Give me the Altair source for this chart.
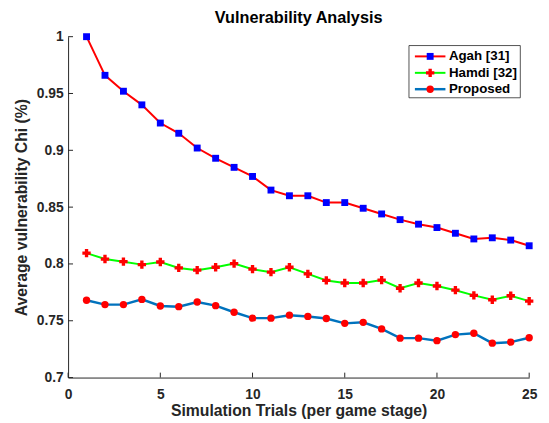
import altair as alt
import pandas as pd

# ---------------- data ----------------
trials = list(range(1, 26))
agah = [1.000, 0.966, 0.952, 0.940, 0.924, 0.915, 0.902, 0.893, 0.885, 0.877,
        0.865, 0.860, 0.860, 0.854, 0.854, 0.849, 0.844, 0.839, 0.835, 0.832,
        0.827, 0.822, 0.823, 0.821, 0.816]
hamdi = [0.8095, 0.8043, 0.8020, 0.7994, 0.8017, 0.7965, 0.7945, 0.7971, 0.8003, 0.7954,
         0.7928, 0.7971, 0.7913, 0.7855, 0.7832, 0.7832, 0.7858, 0.7786, 0.7832, 0.7806,
         0.7769, 0.7723, 0.7685, 0.7720, 0.7673]
proposed = [0.7680, 0.7642, 0.7642, 0.7688, 0.7630, 0.7624, 0.7665, 0.7633, 0.7575, 0.7523,
            0.7523, 0.7549, 0.7538, 0.7520, 0.7477, 0.7486, 0.7428, 0.7347, 0.7347, 0.7325,
            0.7378, 0.7390, 0.7303, 0.7312, 0.7350]
series_names = ["Agah [31]", "Hamdi [32]", "Proposed"]
x_ticks = [0, 5, 10, 15, 20, 25]
y_ticks = [0.7, 0.75, 0.8, 0.85, 0.9, 0.95, 1.0]

# ---------------- style ----------------
W, H = 468, 346
FONT = "Liberation Sans"
AX = "#262626"

x_scale = alt.Scale(domain=[0, 25], nice=False, zero=False)
y_scale = alt.Scale(domain=[0.7, 1.0], nice=False, zero=False)

x_axis = alt.Axis(values=x_ticks, title="Simulation Trials (per game stage)", grid=False,
                  ticks=False, tickSize=0, labelPadding=10, labelFlush=False,
                  domainColor=AX, domainWidth=1, labelColor=AX, labelFont=FONT,
                  labelFontSize=14, labelFontWeight="bold", format="~g",
                  titleFont=FONT, titleFontSize=16, titleFontWeight="bold", titleColor=AX,
                  titleBaseline="alphabetic", titleY=39, titleX=W / 2, titleAlign="center")
y_axis = alt.Axis(values=y_ticks, title="Average vulnerability Chi (%)", grid=False,
                  ticks=False, tickSize=0, labelPadding=5, labelFlush=False,
                  domainColor=AX, domainWidth=1, labelColor=AX, labelFont=FONT,
                  labelFontSize=14, labelFontWeight="bold", format=".2~f",
                  titleFont=FONT, titleFontSize=16, titleFontWeight="bold", titleColor=AX,
                  titleBaseline="alphabetic", titleX=-42, titleY=H / 2, titleAlign="center",
                  titleAngle=270)


def series_layers(values, line_color, line_width, shape, marker_color, size):
    df = pd.DataFrame({"trial": trials, "value": values})
    base = alt.Chart(df).encode(
        x=alt.X("trial:Q", scale=x_scale, axis=x_axis),
        y=alt.Y("value:Q", scale=y_scale, axis=y_axis),
    )
    line = base.mark_line(color=line_color, strokeWidth=line_width)
    pts = base.mark_point(shape=shape, filled=True, color=marker_color, size=size,
                          opacity=1, strokeWidth=0.5)
    return [line, pts]


styles = [
    ("#FF0000", 2.0, "square", "#0000FF", 49),
    ("#00FF00", 2.0, "cross", "#FF0000", 72),
    ("#0072BD", 2.5, "circle", "#FF0000", 56),
]
values_list = [agah, hamdi, proposed]

layers = []
for vals, st in zip(values_list, styles):
    layers += series_layers(vals, *st)

# inward tick marks
xt = pd.DataFrame({"t": x_ticks})
yt = pd.DataFrame({"t": y_ticks})
x_tick_marks = alt.Chart(xt).mark_rule(color=AX, strokeWidth=1).encode(
    x=alt.X("t:Q", scale=x_scale, axis=x_axis), y=alt.value(H), y2=alt.value(H - 5))
y_tick_marks = alt.Chart(yt).mark_rule(color=AX, strokeWidth=1).encode(
    y=alt.Y("t:Q", scale=y_scale, axis=y_axis), x=alt.value(0), x2=alt.value(5))

# legend
one = pd.DataFrame({"k": [0]})
legend_layers = [
    alt.Chart(one).mark_rect(fill="white", stroke=AX, strokeWidth=0.8).encode(
        x=alt.value(346), x2=alt.value(459), y=alt.value(9), y2=alt.value(62))
]
row_y = [20, 36.7, 53.3]
for name, st, ry in zip(series_names, styles, row_y):
    lc, lw, shp, mc, sz = st
    legend_layers.append(alt.Chart(one).mark_rule(color=lc, strokeWidth=lw).encode(
        x=alt.value(352), x2=alt.value(383), y=alt.value(ry)))
    legend_layers.append(alt.Chart(one).mark_point(shape=shp, filled=True, color=mc, size=sz,
                                                   opacity=1, strokeWidth=0.5).encode(
        x=alt.value(367.5), y=alt.value(ry)))
    legend_layers.append(alt.Chart(one).mark_text(align="left", baseline="middle", font=FONT,
                                                  fontSize=13.5, fontWeight="bold",
                                                  color="black").encode(
        x=alt.value(386.5), y=alt.value(ry), text=alt.value(name)))

chart = alt.layer(*layers, x_tick_marks, y_tick_marks, *legend_layers).properties(
    width=W, height=H,
    title=alt.Title("Vulnerability Analysis", font=FONT, fontSize=16.5, fontWeight="bold",
                    color="black", anchor="middle", offset=3),
    padding={"left": 61, "top": 26, "right": 12, "bottom": 43},
    autosize=alt.AutoSizeParams(type="none"),
).configure_view(stroke=None)

chart.save("out.html", embed_options={"renderer": "svg", "actions": False})
